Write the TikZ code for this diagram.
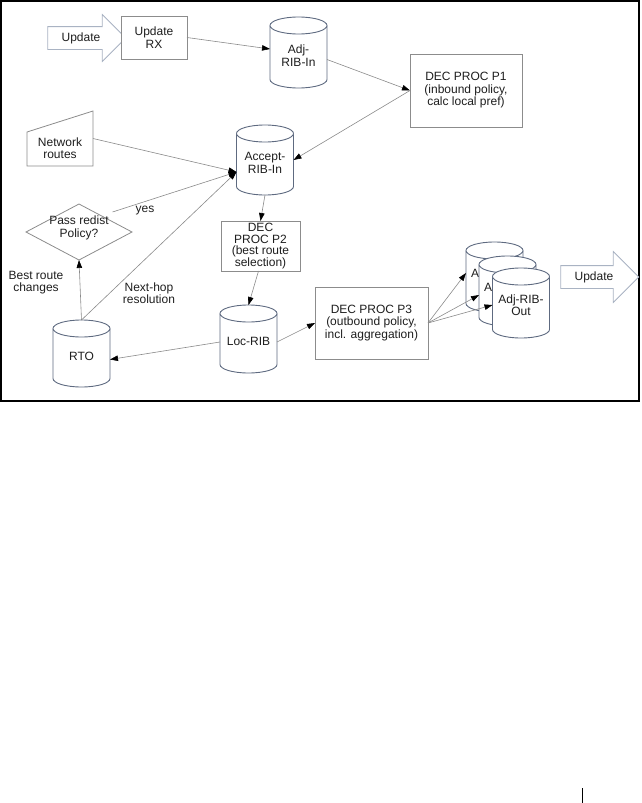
\documentclass[tikz,border=0pt]{standalone}
\usepackage{fontspec}
\setmainfont{Liberation Sans}
\usetikzlibrary{shapes.geometric,shapes.arrows,arrows.meta,calc}
\definecolor{boxgray}{HTML}{8C8C8C}
\definecolor{cylblue}{HTML}{5E6A80}
\definecolor{arrgray}{HTML}{A9B3C3}
\definecolor{linegray}{HTML}{8A8A8A}
\definecolor{txt}{HTML}{1E1E1E}
\newcommand\mkcyl[5]{%
 \node[cylbox, minimum width=#4pt, minimum height=#5pt] (#1) at (#2,-#3) {};
 \pgfmathsetmacro\cxl{#2-#4/2}%
 \pgfmathsetmacro\cxr{#2+#4/2}%
 \pgfmathsetmacro\cyt{-#3+#5/2-8.5}%
 \pgfmathsetmacro\cyb{-#3-#5/2+8.5}%
 \pgfmathsetmacro\crx{#4/2}%
 \filldraw[cylline] (\cxl,\cyt) -- (\cxl,\cyb) arc[start angle=180,end angle=360,x radius=\crx,y radius=8.5] -- (\cxr,\cyt) arc[start angle=0,end angle=180,x radius=\crx,y radius=8.5] -- cycle;
 \draw[cylline] (\cxl,\cyt) arc[start angle=180,end angle=360,x radius=\crx,y radius=8.5];
}
\begin{document}
\begin{tikzpicture}[x=1pt,y=1pt,
 every node/.style={font=\fontsize{12}{12.5}\selectfont, text=txt, inner sep=0pt, outer sep=0pt},
 box/.style={draw=boxgray, line width=0.8pt, fill=white, align=center},
 shapeline/.style={draw=boxgray, line width=0.8pt, fill=white},
 cylbox/.style={draw=none, minimum width=57pt, minimum height=70pt},
 cylline/.style={draw=cylblue, line width=0.9pt, fill=white},
 lbl/.style={align=center},
 bigarrow/.style={single arrow, draw=arrgray, line width=0.8pt, fill=white, minimum height=78pt, single arrow head extend=12pt, text height=8.6pt, text depth=2.4pt, inner xsep=0pt, inner ysep=5.5pt},
 conn/.style={draw=linegray, line width=0.6pt, -{Triangle[length=8pt,width=5.5pt,black]}},
]
\useasboundingbox (0,0) rectangle (641,-803);
\draw[line width=1.6pt, black] (1,-1) rectangle (639.2,-401);
\draw[line width=0.9pt, black] (582,-788) -- (582,-803);

% input update arrow and boxes
\node[bigarrow] (upd1) at (81,-38) {Update};
\node[box, minimum width=66pt, minimum height=43pt] (updrx) at (154,-37.5) {Update\\RX};
\mkcyl{adjin}{298.5}{52.5}{57}{71}
\node[lbl] (adjinT) at ([yshift=-3pt]adjin.center) {Adj-\\RIB-In};
\node[box, minimum width=112pt, minimum height=73pt] (p1) at (466,-90.5) {DEC PROC P1\\(inbound policy,\\calc local pref)};
\mkcyl{accept}{265}{160}{57}{70}
\node[lbl] (acceptT) at ([yshift=-3pt]accept.center) {Accept-\\RIB-In};

% network routes
\node[draw=none, minimum width=66pt, minimum height=55pt] (net) at (60,-138.5) {};
\draw[shapeline] (27,-132) -- (93,-111) -- (93,-166) -- (27,-166) -- cycle;
\node[lbl] (netT) at (60,-148) {Network\\routes};

% diamond
\node[diamond, shapeline, minimum width=106pt, minimum height=56pt] (dia) at (79,-232) {};
\node[lbl] (diaT) at (79,-228) {Pass redist\\Policy?};

% P2
\node[box, minimum width=79pt, minimum height=50pt, font=\fontsize{12}{11.4}\selectfont] (p2) at (260.5,-246) {DEC\\PROC P2\\(best route\\selection)};

% RTO and Loc-RIB
\mkcyl{rto}{81.5}{353.5}{57}{67}
\node[lbl] (rtoT) at ([yshift=-3pt]rto.center) {RTO};
\mkcyl{locrib}{248.5}{339}{57}{68}
\node[lbl] (locribT) at ([yshift=-2pt]locrib.center) {Loc-RIB};

% P3
\node[box, minimum width=113pt, minimum height=72pt] (p3) at (371.5,-323) {DEC PROC P3\\(outbound policy,\\incl. aggregation)};

% Adj-RIB-Out stack (only the visible letters of the rear copies)
\mkcyl{out1}{494.5}{277}{57}{70}
\node[anchor=west] (out1T) at ([xshift=5pt,yshift=4pt]out1.west) {A};
\mkcyl{out2}{507.5}{291}{57}{70}
\node[anchor=west] (out2T) at ([xshift=5pt,yshift=4pt]out2.west) {A};
\mkcyl{out3}{521}{303}{57}{70}
\node[lbl] (out3T) at ([yshift=-2pt]out3.center) {Adj-RIB-\\Out};

\node[bigarrow, single arrow head extend=14pt] (upd2) at (594,-277) {Update};

% labels
\node[lbl] (yesL) at (145,-211) {yes};
\node[lbl] (bestL) at (36,-282.5) {Best route\\changes};
\node[lbl] (nhL) at (149,-293) {Next-hop\\resolution};

% connectors
\draw[conn] (updrx.east) -- ([yshift=3.5pt]adjin.west);
\draw[conn] ([yshift=-7pt]adjin.east) -- (p1.west);
\draw[conn] (p1.west) -- (accept.east);
\draw[conn] (net.east) -- ([yshift=-12pt]accept.west);
\draw[conn] ([shift={(7pt,6pt)}]dia.north east) -- ([yshift=-12pt]accept.west);
\draw[conn] (rto.north) -- ([yshift=-12pt]accept.west);
\draw[conn] (rto.north) -- (dia.south);
\draw[conn] (accept.south) -- (p2.north);
\draw[conn] ([xshift=-2pt]p2.south) -- (locrib.north);
\draw[conn] ([yshift=-3pt]locrib.west) -- ([yshift=-6pt]rto.east);
\draw[conn] ([yshift=-3pt]locrib.east) -- (p3.west);
\draw[conn] (p3.east) -- ([yshift=4pt]out1.west);
\draw[conn] (p3.east) -- ([yshift=-4pt]out2.west);
\draw[conn] (p3.east) -- ([yshift=-2pt]out3.west);
\end{tikzpicture}
\end{document}
